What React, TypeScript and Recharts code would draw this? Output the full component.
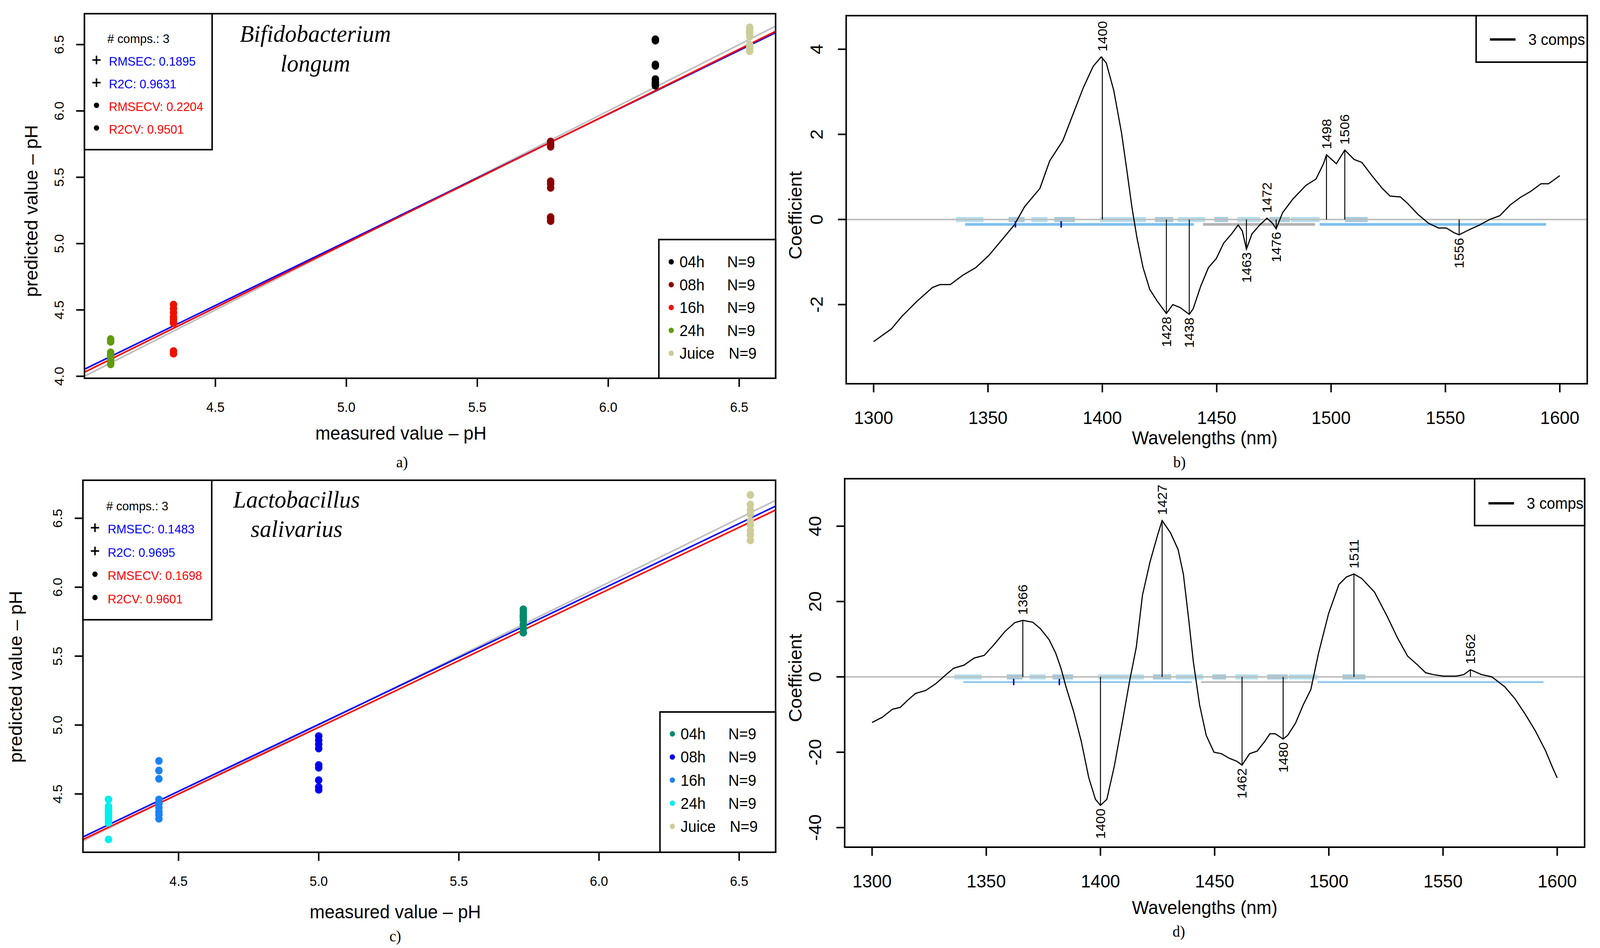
import React from "react";
import {
  ComposedChart,
  Line,
  ReferenceDot,
  ReferenceLine,
  Scatter,
  XAxis,
  YAxis,
} from "recharts";

const SANS = '"Liberation Sans", Arial, Helvetica, sans-serif';
const SERIF = '"Liberation Serif", "Times New Roman", serif';

// ---------- a) Bifidobacterium longum ----------
const groupsA = ["04h", "08h", "16h", "24h", "Juice"];
const measuredA = [6.18, 5.78, 4.34, 4.1, 6.54];
const predictedA = [
  [6.54, 6.53, 6.35, 6.34, 6.24, 6.22, 6.21, 6.2, 6.19],
  [5.77, 5.75, 5.73, 5.47, 5.45, 5.42, 5.2, 5.19, 5.17],
  [4.54, 4.51, 4.48, 4.45, 4.43, 4.41, 4.4, 4.19, 4.17],
  [4.28, 4.26, 4.18, 4.16, 4.15, 4.13, 4.12, 4.1, 4.09],
  [6.63, 6.62, 6.6, 6.58, 6.56, 6.5, 6.48, 6.47, 6.45],
];
const statsA = ["RMSEC: 0.1895", "R2C: 0.9631", "RMSECV: 0.2204", "R2CV: 0.9501"];
// fitted values at the left / right edge of the plot
const calFitA = [4.053, 6.59];
const cvFitA = [4.031, 6.6];

// ---------- c) Lactobacillus salivarius ----------
const groupsC = ["04h", "08h", "16h", "24h", "Juice"];
const measuredC = [5.73, 5.0, 4.43, 4.25, 6.54];
const predictedC = [
  [5.84, 5.82, 5.8, 5.79, 5.78, 5.76, 5.73, 5.7, 5.67],
  [4.92, 4.89, 4.86, 4.83, 4.71, 4.69, 4.6, 4.55, 4.53],
  [4.74, 4.67, 4.61, 4.46, 4.43, 4.4, 4.37, 4.35, 4.32],
  [4.46, 4.41, 4.39, 4.37, 4.35, 4.33, 4.31, 4.29, 4.17],
  [6.67, 6.6, 6.56, 6.53, 6.48, 6.45, 6.41, 6.38, 6.34],
];
const statsC = ["RMSEC: 0.1483", "R2C: 0.9695", "RMSECV: 0.1698", "R2CV: 0.9601"];
const calFitC = [4.188, 6.588];
const cvFitC = [4.17, 6.56];

// ---------- b) regression coefficients, 3 comps ----------
const wlB = [
  1300, 1307.8, 1312.3, 1319, 1325.7, 1329, 1333.5, 1339, 1344.7, 1350.3, 1355.9,
  1361.5, 1366, 1372.7, 1377, 1382.7, 1386, 1391.7, 1396, 1399.5, 1401.7, 1405,
  1408.4, 1410.7, 1412.9, 1415.1, 1417.8, 1420.7, 1424, 1428, 1430.8, 1434, 1438,
  1439.7, 1443, 1446.4, 1449.8, 1453, 1456.5, 1459.4, 1461.2, 1463, 1465.4, 1468.8,
  1472, 1474.4, 1476, 1478.8, 1483.3, 1489, 1493.4, 1496.7, 1498, 1502.3, 1506,
  1510.1, 1513.5, 1518, 1522.4, 1525.8, 1530.3, 1533.6, 1538, 1542.6, 1547, 1550.4,
  1553.7, 1556, 1560.4, 1564.9, 1569.4, 1573.8, 1578.3, 1582.8, 1587.3, 1591.8,
  1595.1, 1600,
];
const coefB = [
  -2.87, -2.57, -2.28, -1.92, -1.6, -1.53, -1.53, -1.31, -1.13, -0.85, -0.49,
  -0.13, 0.3, 0.73, 1.38, 1.85, 2.31, 3.1, 3.6, 3.82, 3.68, 3.03,
  2.03, 1.16, 0.3, -0.42, -1.13, -1.64, -1.92, -2.21, -2.0, -2.07, -2.23,
  -2.1, -1.57, -1.13, -0.92, -0.56, -0.34, -0.13, -0.27, -0.7, -0.34, -0.13,
  0.03, -0.09, -0.22, 0.16, 0.48, 0.8, 0.95, 1.31, 1.52, 1.31, 1.63,
  1.41, 1.34, 1.02, 0.73, 0.55, 0.53, 0.37, 0.12, -0.09, -0.2, -0.2,
  -0.31, -0.36, -0.24, -0.13, 0, 0.09, 0.34, 0.52, 0.66, 0.84,
  0.84, 1.03,
];
const peaksB = [
  { wl: 1400, c: 3.82, up: true },
  { wl: 1428, c: -2.21, up: false },
  { wl: 1438, c: -2.23, up: false },
  { wl: 1463, c: -0.7, up: false },
  { wl: 1472, c: 0.03, up: true },
  { wl: 1476, c: -0.22, up: false },
  { wl: 1498, c: 1.52, up: true },
  { wl: 1506, c: 1.63, up: true },
  { wl: 1556, c: -0.36, up: false },
];

// ---------- d) regression coefficients, 3 comps ----------
const wlD = [
  1300, 1304.5, 1308.9, 1312.3, 1315.6, 1319, 1323.5, 1327.9, 1332.4, 1335.7, 1340.2,
  1344.7, 1349.1, 1353.6, 1358.1, 1362.5, 1366, 1370.4, 1373.7, 1377.5, 1380.4, 1382.7,
  1384.9, 1388.2, 1391.6, 1394.9, 1397.8, 1400, 1402.8, 1406.1, 1409.5, 1412.8, 1415.7,
  1418.4, 1421.7, 1425.1, 1427, 1430.7, 1434, 1436.3, 1438.5, 1440.7, 1443.4, 1446.3,
  1449.7, 1453, 1456.4, 1459.7, 1462, 1465.3, 1468.6, 1472, 1474.2, 1476.5, 1480,
  1482, 1485.4, 1488.8, 1492.1, 1495.5, 1499.9, 1504.4, 1507.7, 1511, 1514.4, 1520,
  1525.6, 1530.1, 1534.5, 1539, 1542.4, 1545.7, 1550.2, 1555.8, 1559.1, 1562, 1566.9,
  1571.4, 1577, 1581.5, 1586, 1590.4, 1594.9, 1598.2, 1600,
];
const coefD = [
  -12.1, -10.7, -8.6, -8.1, -6.2, -4.4, -3.6, -1.8, 0.6, 2.3, 3.1,
  5.0, 5.7, 8.7, 12.0, 14.4, 15.0, 14.5, 12.8, 9.9, 6.3, 2.3,
  -2.6, -9.1, -17.1, -26.8, -32.5, -34.1, -32.5, -23.6, -12.3, -1.0, 7.9,
  21.7, 30.5, 37.8, 41.5, 38.2, 33.8, 27.3, 16.0, 3.9, -7.4, -15.5,
  -20.0, -20.4, -21.6, -22.4, -23.4, -20.4, -19.7, -17.1, -15.1, -15.1, -16.5,
  -15.5, -12.3, -7.4, -3.4, 6.3, 16.8, 24.5, 26.5, 27.3, 26.1, 22.5,
  16.0, 10.3, 5.5, 3.1, 1.1, 0.6, 0.2, 0.2, 0.6, 1.9, 0.6,
  0, -2.6, -5.8, -9.9, -14.3, -19.6, -24.4, -26.8,
];
const peaksD = [
  { wl: 1366, c: 15.0, up: true },
  { wl: 1400, c: -34.1, up: false },
  { wl: 1427, c: 41.5, up: true },
  { wl: 1462, c: -23.4, up: false },
  { wl: 1480, c: -16.5, up: false },
  { wl: 1511, c: 27.3, up: true },
  { wl: 1562, c: 1.9, up: true },
];

// wavelength regions marked along the zero line (both spectra)
const regionsTop = [
  [1336, 1348], [1359, 1366], [1369, 1376], [1379, 1388], [1399, 1419], [1423, 1431],
  [1433, 1445], [1449, 1455], [1459, 1469], [1473, 1482], [1482.5, 1495], [1506, 1516],
];
const regionsLow = [[1340, 1440], [1444, 1493], [1495, 1594]];
const markedWl = [1362, 1382];

const xTicksScatter = [4.5, 5.0, 5.5, 6.0, 6.5];
const xTicksSpec = [1300, 1350, 1400, 1450, 1500, 1550, 1600];

// ---------- styles ----------
const colorsA = ["#000000", "#8B0000", "#EE1100", "#619B0E", "#CDCD9A"];
const colorsC = ["#00896B", "#0000EE", "#1A82F5", "#00EEEE", "#CDCD9A"];
const topColors = ["#B2DFEE", "#A4CBDC"];
const lowColors = ["#7EC0EE", "#B3B3B3", "#7EC0EE"];
const AXIS_H = 100;
const TICK = 22;
const TICK_LINE = { stroke: "#000", strokeWidth: 4 };
const PAGE_W = 4262;
const PAGE_H = 2426;

type Box = { x0: number; y0: number; w: number; h: number; L: number; R: number; T: number; B: number };

const marginOf = (b: Box) => ({
  top: b.T - b.y0,
  right: b.x0 + b.w - b.R,
  left: 0,
  bottom: b.y0 + b.h - b.B - AXIS_H,
});

const XTick = (p: any) => (
  <text x={p.x} y={p.y + p.off} textAnchor="middle" dominantBaseline="central"
    fontSize={p.size} fontFamily={SANS} fill="#000">
    {p.fmt(p.payload.value)}
  </text>
);

const YTick = (p: any) => {
  const x = p.x - p.off;
  return (
    <text x={x} y={p.y} transform={`rotate(-90 ${x} ${p.y})`} textAnchor="middle"
      dominantBaseline="central" fontSize={p.size} fontFamily={SANS} fill="#000">
      {p.fmt(p.payload.value)}
    </text>
  );
};

const fmt1 = (v: number) => v.toFixed(1);
const fmt0 = (v: number) => String(v);

const Caption = ({ x, y, text }: { x: number; y: number; text: string }) => (
  <text x={x} y={y} textAnchor="middle" fontSize={40} fontFamily={SERIF}>{text}</text>
);

const VTitle = ({ x, y, text }: { x: number; y: number; text: string }) => (
  <text x={x} y={y} transform={`rotate(-90 ${x} ${y})`} textAnchor="middle"
    fontSize={48} fontFamily={SANS}>{text}</text>
);

const overlayStyle: React.CSSProperties = {
  position: "absolute",
  left: 0,
  top: 0,
  pointerEvents: "none",
  overflow: "visible",
};

function ScatterPanel({ cfg, groups, colors, measured, predicted, stats, calFit, cvFit }: any) {
  const b: Box = cfg.box;
  const [x0, x1] = cfg.xDomain;
  const lo = Math.max(x0, cfg.yDomain[0]);
  return (
    <div style={{ position: "absolute", left: b.x0, top: b.y0, width: b.w, height: b.h }}>
      <ComposedChart width={b.w} height={b.h} margin={marginOf(b)}>
        <XAxis type="number" dataKey="x" domain={cfg.xDomain} ticks={xTicksScatter} allowDataOverflow
          axisLine={false} tickLine={TICK_LINE} tickSize={TICK} tickMargin={0} height={AXIS_H} interval={0}
          tick={(p: any) => <XTick {...p} off={52} size={35} fmt={fmt1} />} />
        <YAxis type="number" dataKey="y" domain={cfg.yDomain} ticks={cfg.yTicks} allowDataOverflow
          axisLine={false} tickLine={TICK_LINE} tickSize={TICK} tickMargin={0} width={b.L - b.x0} interval={0}
          tick={(p: any) => <YTick {...p} off={46} size={35} fmt={fmt1} />} />
        <ReferenceLine segment={[{ x: lo, y: lo }, { x: x1, y: x1 }]} stroke="#BEBEBE" strokeWidth={4} ifOverflow="hidden" />
        <ReferenceLine segment={[{ x: x0, y: calFit[0] }, { x: x1, y: calFit[1] }]} stroke="#0000FF" strokeWidth={4} ifOverflow="hidden" />
        <ReferenceLine segment={[{ x: x0, y: cvFit[0] }, { x: x1, y: cvFit[1] }]} stroke="#FF0000" strokeWidth={4} ifOverflow="hidden" />
        {groups.map((g: string, gi: number) => (
          <Scatter key={g} name={g} isAnimationActive={false}
            data={predicted[gi].map((y: number) => ({ x: measured[gi], y }))}
            shape={(s: any) => <circle cx={s.cx} cy={s.cy} r={10} fill={colors[gi]} />} />
        ))}
      </ComposedChart>
      <svg width={b.w} height={b.h} style={overlayStyle}>
        <g transform={`translate(${-b.x0} ${-b.y0})`}>
          <rect x={b.L} y={b.T} width={b.R - b.L} height={b.B - b.T} fill="none" stroke="#000" strokeWidth={4} />
          {/* statistics box */}
          <rect x={b.L} y={b.T} width={cfg.info.w} height={cfg.info.h} fill="#fff" stroke="#000" strokeWidth={4} />
          <text x={b.L + cfg.info.tx - 4} y={b.T + cfg.info.y0} dominantBaseline="central" fontSize={32} fontFamily={SANS}>
            # comps.: 3
          </text>
          {stats.map((s: string, i: number) => {
            const y = b.T + cfg.info.y0 + (i + 1) * cfg.info.gap;
            const mx = b.L + 32;
            return (
              <g key={s}>
                {i < 2 ? (
                  <path d={`M${mx - 11} ${y - 4} H${mx + 11} M${mx} ${y - 15} V${y + 7}`} stroke="#000" strokeWidth={4} />
                ) : (
                  <circle cx={mx} cy={y - 4} r={7} fill="#000" />
                )}
                <text x={b.L + cfg.info.tx} y={y} dominantBaseline="central" fontSize={32} fontFamily={SANS}
                  fill={i < 2 ? "#0000FF" : "#FF0000"}>{s}</text>
              </g>
            );
          })}
          {/* species */}
          {cfg.species.map((t: string, i: number) => (
            <text key={t} x={cfg.speciesX} y={cfg.speciesY[i]} textAnchor="middle" fontSize={62}
              fontFamily={SERIF} fontStyle="italic">{t}</text>
          ))}
          {/* group legend */}
          <rect x={cfg.legend.x} y={cfg.legend.y} width={b.R - cfg.legend.x} height={b.B - cfg.legend.y}
            fill="#fff" stroke="#000" strokeWidth={4} />
          {groups.map((g: string, gi: number) => {
            const y = cfg.legend.row0 + gi * cfg.legend.gap;
            return (
              <g key={g}>
                <circle cx={cfg.legend.x + 33} cy={y} r={7} fill={colors[gi]} />
                <text x={cfg.legend.x + 55} y={y} dominantBaseline="central" fontSize={40} fontFamily={SANS}>{g}</text>
                <text x={cfg.legend.x + (g === "Juice" ? 186 : 182)} y={y} dominantBaseline="central"
                  fontSize={40} fontFamily={SANS}>N=9</text>
              </g>
            );
          })}
          <text x={cfg.xTitle[0]} y={cfg.xTitle[1]} textAnchor="middle" fontSize={48} fontFamily={SANS}>
            measured value – pH
          </text>
          <VTitle x={cfg.yTitle[0]} y={cfg.yTitle[1]} text="predicted value – pH" />
          <Caption x={cfg.caption[0]} y={cfg.caption[1]} text={cfg.caption[2]} />
        </g>
      </svg>
    </div>
  );
}

const PeakLabel = (p: any) => {
  const d = p.payload ?? p;
  const y = d.up ? p.cy - 14 : p.cy + 8;
  return (
    <text x={p.cx} y={y} transform={`rotate(-90 ${p.cx} ${y})`} textAnchor={d.up ? "start" : "end"}
      dominantBaseline="central" fontSize={35} fontFamily={SANS} fill="#000">{d.wl}</text>
  );
};

function SpectrumPanel({ cfg, wl, coef, peaks }: any) {
  const b: Box = cfg.box;
  const curve = wl.map((w: number, i: number) => ({ wl: w, c: coef[i] }));
  return (
    <div style={{ position: "absolute", left: b.x0, top: b.y0, width: b.w, height: b.h }}>
      <ComposedChart width={b.w} height={b.h} margin={marginOf(b)} data={curve}>
        <XAxis type="number" dataKey="wl" domain={[1288, 1612]} ticks={xTicksSpec} allowDataOverflow
          axisLine={false} tickLine={TICK_LINE} tickSize={TICK} tickMargin={0} height={AXIS_H} interval={0}
          tick={(p: any) => <XTick {...p} off={65} size={47} fmt={fmt0} />} />
        <YAxis type="number" domain={cfg.yDomain} ticks={cfg.yTicks} allowDataOverflow
          axisLine={false} tickLine={TICK_LINE} tickSize={TICK} tickMargin={0} width={b.L - b.x0} interval={0}
          tick={(p: any) => <YTick {...p} off={57} size={47} fmt={fmt0} />} />
        {regionsTop.map(([a, e], i) => (
          <ReferenceLine key={`t${i}`} segment={[{ x: a, y: 0 }, { x: e, y: 0 }]}
            stroke={topColors[i % 2]} strokeWidth={13} />
        ))}
        <ReferenceLine y={0} stroke="#BEBEBE" strokeWidth={4} />
        {regionsLow.map(([a, e], i) => (
          <ReferenceLine key={`l${i}`} segment={[{ x: a, y: cfg.lowY }, { x: e, y: cfg.lowY }]}
            stroke={lowColors[i]} strokeWidth={cfg.lowW} />
        ))}
        <Line type="linear" dataKey="c" stroke="#000" strokeWidth={3} dot={false} isAnimationActive={false} />
        {peaks.map((p: any) => (
          <ReferenceLine key={`p${p.wl}`} segment={[{ x: p.wl, y: 0 }, { x: p.wl, y: p.c }]}
            stroke="#000" strokeWidth={2.5} />
        ))}
        {markedWl.map((w) => (
          <ReferenceDot key={`m${w}`} x={w} y={cfg.lowY} r={1}
            shape={(s: any) => <rect x={s.cx - 2} y={s.cy - 8} width={4} height={16} fill="#0000CD" />} />
        ))}
        <Scatter data={peaks} dataKey="c" shape={PeakLabel} isAnimationActive={false} />
      </ComposedChart>
      <svg width={b.w} height={b.h} style={overlayStyle}>
        <g transform={`translate(${-b.x0} ${-b.y0})`}>
          <rect x={b.L} y={b.T} width={b.R - b.L} height={b.B - b.T} fill="none" stroke="#000" strokeWidth={4} />
          <rect x={cfg.legend[0]} y={b.T} width={b.R - cfg.legend[0]} height={cfg.legend[1] - b.T}
            fill="#fff" stroke="#000" strokeWidth={4} />
          <line x1={cfg.legend[0] + 37} x2={cfg.legend[0] + 105} y1={cfg.legend[2]} y2={cfg.legend[2]}
            stroke="#000" strokeWidth={6} />
          <text x={cfg.legend[0] + 139} y={cfg.legend[2]} dominantBaseline="central" fontSize={40}
            fontFamily={SANS}>3 comps</text>
          <text x={3209} y={cfg.xTitleY} textAnchor="middle" fontSize={48} fontFamily={SANS}>
            Wavelengths (nm)
          </text>
          <VTitle x={2135} y={cfg.yTitleY} text="Coefficient" />
          <Caption x={cfg.caption[0]} y={cfg.caption[1]} text={cfg.caption[2]} />
        </g>
      </svg>
    </div>
  );
}

const cfgA = {
  box: { x0: 0, y0: 0, w: 2131, h: 1213, L: 225, R: 2066, T: 35, B: 968 },
  xDomain: [4.0, 6.639],
  yDomain: [3.985, 6.733],
  yTicks: [4.0, 4.5, 5.0, 5.5, 6.0, 6.5],
  info: { w: 340, h: 348, tx: 65, y0: 64.5, gap: 58 },
  species: ["Bifidobacterium", "longum"],
  speciesX: 840,
  speciesY: [107, 183],
  legend: { x: 1755, y: 613, row0: 670, gap: 58.5 },
  xTitle: [1068, 1125],
  yTitle: [100, 540],
  caption: [1071, 1196, "a)"],
};

const cfgC = {
  box: { x0: 0, y0: 1213, w: 2131, h: 1213, L: 221, R: 2066, T: 1229, B: 2181 },
  xDomain: [4.159, 6.63],
  yDomain: [4.077, 6.776],
  yTicks: [4.5, 5.0, 5.5, 6.0, 6.5],
  info: { w: 343, h: 357, tx: 66, y0: 66, gap: 59.5 },
  species: ["Lactobacillus", "salivarius"],
  speciesX: 790,
  speciesY: [1299, 1374],
  legend: { x: 1758, y: 1822, row0: 1878, gap: 59.2 },
  xTitle: [1053, 2350],
  yTitle: [58, 1732],
  caption: [1053, 2409, "c)"],
};

const cfgB = {
  box: { x0: 2131, y0: 0, w: 2131, h: 1213, L: 2254, R: 4228, T: 40, B: 982 },
  yDomain: [-3.86, 4.79],
  yTicks: [-2, 0, 2, 4],
  lowY: -0.116,
  lowW: 7,
  legend: [3932, 159, 101],
  xTitleY: 1137,
  yTitleY: 551,
  caption: [3142, 1196, "b)"],
};

const cfgD = {
  box: { x0: 2131, y0: 1213, w: 2131, h: 1213, L: 2250, R: 4221, T: 1225, B: 2168 },
  yDomain: [-45.2, 52.6],
  yTicks: [-40, -20, 0, 20, 40],
  lowY: -1.37,
  lowW: 4,
  legend: [3928, 1345, 1288],
  xTitleY: 2339,
  yTitleY: 1735,
  caption: [3140, 2397, "d)"],
};

export default function App() {
  // the real viewport can be a little narrower than the page size: fit the figure into it
  const vw = typeof window !== "undefined" ? window.innerWidth : PAGE_W;
  const vh = typeof window !== "undefined" ? window.innerHeight : PAGE_H;
  const kx = Math.min(1, vw / PAGE_W);
  const ky = Math.min(1, vh / PAGE_H);
  return (
    <div style={{
      position: "absolute", left: 0, top: 0, width: PAGE_W, height: PAGE_H, background: "#fff",
      overflow: "hidden", transform: `scale(${kx}, ${ky})`, transformOrigin: "0 0",
    }}>
      <ScatterPanel cfg={cfgA} groups={groupsA} colors={colorsA} measured={measuredA}
        predicted={predictedA} stats={statsA} calFit={calFitA} cvFit={cvFitA} />
      <SpectrumPanel cfg={cfgB} wl={wlB} coef={coefB} peaks={peaksB} />
      <ScatterPanel cfg={cfgC} groups={groupsC} colors={colorsC} measured={measuredC}
        predicted={predictedC} stats={statsC} calFit={calFitC} cvFit={cvFitC} />
      <SpectrumPanel cfg={cfgD} wl={wlD} coef={coefD} peaks={peaksD} />
    </div>
  );
}
